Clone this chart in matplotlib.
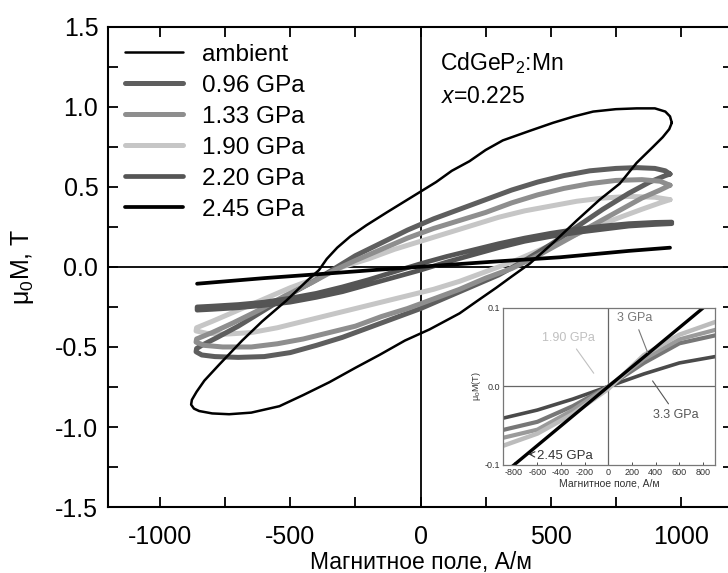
import matplotlib
matplotlib.use('Agg')
import matplotlib.pyplot as plt
from matplotlib.ticker import MultipleLocator, FuncFormatter

plt.rcParams['font.family'] = ['Liberation Sans', 'DejaVu Sans']
plt.rcParams['mathtext.fontset'] = 'custom'
plt.rcParams['mathtext.rm'] = 'Liberation Sans'
plt.rcParams['mathtext.it'] = 'Liberation Sans:italic'

# ---------------- data (field in A/m, magnetisation mu0*M in T) ----------------
labels = ['ambient', '0.96 GPa', '1.33 GPa', '1.90 GPa', '2.20 GPa', '2.45 GPa']

amb_H = [965, 958, 940, 900, 830, 750, 663, 590, 509, 420, 316, 250, 188, 120, 60, 0,
         -60, -130, -208, -270, -320, -360, -390, -438, -515, -608, -685, -773, -830,
         -860, -878, -881, -870, -850, -800, -735, -650, -542, -450, -350, -250, -158,
         -60, 35, 150, 220, 291, 350, 419, 509, 600, 688, 765, 830, 893, 930, 955, 965]
amb_M = [0.90, 0.94, 0.97, 0.99, 0.99, 0.985, 0.97, 0.94, 0.90, 0.85, 0.79, 0.73, 0.66,
         0.60, 0.53, 0.47, 0.41, 0.34, 0.26, 0.19, 0.12, 0.05, -0.02, -0.09, -0.21,
         -0.34, -0.46, -0.61, -0.71, -0.78, -0.83, -0.86, -0.885, -0.90, -0.915, -0.92,
         -0.91, -0.87, -0.80, -0.72, -0.63, -0.55, -0.46, -0.39, -0.29, -0.21, -0.13,
         -0.06, 0.02, 0.15, 0.29, 0.42, 0.52, 0.65, 0.75, 0.81, 0.86, 0.90]

p096_H = [958, 940, 900, 830, 750, 650, 550, 450, 350, 250, 150, 50, -50, -150, -250,
          -320, -400, -500, -600, -700, -780, -840, -860,
          -862, -840, -790, -700, -600, -500, -400, -300, -200, -100, 0, 100, 200, 300,
          400, 500, 600, 700, 800, 880, 940, 958]
p096_M = [0.58, 0.60, 0.615, 0.62, 0.615, 0.60, 0.57, 0.53, 0.48, 0.42, 0.36, 0.30,
          0.23, 0.15, 0.07, 0.0, -0.08, -0.17, -0.27, -0.37, -0.44, -0.49, -0.51,
          -0.53, -0.55, -0.56, -0.565, -0.56, -0.535, -0.49, -0.44, -0.38, -0.32, -0.26,
          -0.19, -0.12, -0.05, 0.04, 0.14, 0.25, 0.36, 0.46, 0.53, 0.57, 0.58]

p133_H = [958, 920, 850, 750, 650, 550, 450, 350, 250, 150, 50, -50, -150, -250, -330,
          -420, -520, -620, -720, -800, -860,
          -862, -830, -760, -650, -550, -450, -350, -250, -150, -50, 50, 150, 250, 350,
          450, 550, 650, 750, 850, 920, 958]
p133_M = [0.51, 0.535, 0.545, 0.54, 0.52, 0.49, 0.45, 0.40, 0.34, 0.29, 0.24, 0.18,
          0.11, 0.04, -0.02, -0.10, -0.18, -0.27, -0.35, -0.41, -0.45,
          -0.47, -0.49, -0.50, -0.50, -0.48, -0.45, -0.41, -0.37, -0.31, -0.26, -0.20,
          -0.14, -0.07, -0.01, 0.07, 0.16, 0.25, 0.34, 0.43, 0.48, 0.51]

p190_H = [958, 900, 800, 700, 600, 500, 400, 300, 200, 100, 0, -100, -200, -300, -400,
          -500, -600, -700, -800, -860,
          -862, -820, -750, -650, -550, -450, -350, -250, -150, -50, 50, 150, 250, 350,
          450, 550, 650, 750, 850, 920, 958]
p190_M = [0.42, 0.435, 0.44, 0.43, 0.41, 0.38, 0.35, 0.31, 0.26, 0.21, 0.16, 0.11,
          0.05, 0.0, -0.07, -0.13, -0.20, -0.27, -0.34, -0.38,
          -0.40, -0.415, -0.42, -0.41, -0.38, -0.34, -0.30, -0.26, -0.22, -0.18, -0.14,
          -0.09, -0.03, 0.03, 0.10, 0.17, 0.24, 0.30, 0.36, 0.40, 0.42]

p220_H = [965, 900, 800, 700, 600, 500, 400, 300, 200, 100, 0, -100, -200, -300, -400,
          -500, -600, -700, -800, -858,
          -858, -800, -700, -600, -500, -400, -300, -200, -100, 0, 100, 200, 300, 400,
          500, 600, 700, 800, 900, 965]
p220_M = [0.28, 0.278, 0.27, 0.255, 0.235, 0.21, 0.18, 0.145, 0.105, 0.065, 0.02,
          -0.03, -0.08, -0.125, -0.165, -0.195, -0.22, -0.235, -0.245, -0.25,
          -0.27, -0.265, -0.255, -0.24, -0.22, -0.19, -0.155, -0.11, -0.065, -0.02,
          0.03, 0.075, 0.12, 0.16, 0.19, 0.215, 0.235, 0.255, 0.265, 0.27]

p245_H = [-858, -600, -388, -200, 35, 300, 535, 800, 958]
p245_M = [-0.105, -0.07, -0.045, -0.022, 0.005, 0.035, 0.06, 0.10, 0.12]

# inset data
ins_black_H = [-830, 0, 840]
ins_black_M = [-0.104, 0.0, 0.105]
ins_a_H = [-880, -600, -300, 0, 300, 600, 900]
ins_a_M = [-0.040, -0.030, -0.016, 0.0, 0.016, 0.030, 0.038]
ins_b_H = [-880, -600, -300, 0, 300, 600, 900]
ins_b_M = [-0.055, -0.045, -0.025, 0.0, 0.030, 0.055, 0.065]
ins_c_H = [-880, -600, -300, 0, 300, 600, 900]
ins_c_M = [-0.065, -0.055, -0.030, 0.0, 0.035, 0.060, 0.072]
ins_d_H = [-880, -600, -300, 0, 300, 600, 900]
ins_d_M = [-0.075, -0.060, -0.035, -0.003, 0.040, 0.066, 0.082]

# ---------------- figure ----------------
fig = plt.figure(figsize=(7.28, 5.73), dpi=100)
ax = fig.add_axes([0.1484, 0.1150, 0.8585, 0.8384])

ax.axhline(0, color='black', lw=1.3, zorder=1)
ax.axvline(0, color='black', lw=1.3, zorder=1)

kw = dict(solid_capstyle='round', solid_joinstyle='round')
l1, = ax.plot(p096_H, p096_M, color='#5e5e5e', lw=3.6, zorder=3, **kw)
l2, = ax.plot(p133_H, p133_M, color='#8e8e8e', lw=3.6, zorder=3, **kw)
l3, = ax.plot(p190_H, p190_M, color='#c6c6c6', lw=3.6, zorder=2, **kw)
l4, = ax.plot(p220_H, p220_M, color='#555555', lw=3.4, zorder=3, **kw)
l5, = ax.plot(p245_H, p245_M, color='black', lw=2.7, zorder=4, **kw)
l0, = ax.plot(amb_H, amb_M, color='black', lw=1.8, zorder=5, **kw)

ax.set_xlim(-1200, 1200)
ax.set_ylim(-1.5, 1.5)
ax.xaxis.set_major_locator(MultipleLocator(500))
ax.xaxis.set_minor_locator(MultipleLocator(250))
ax.yaxis.set_major_locator(MultipleLocator(0.5))
ax.yaxis.set_minor_locator(MultipleLocator(0.25))
ax.tick_params(which='both', direction='in', top=True, right=True, width=1.3,
               labelsize=18, length=7)
ax.tick_params(axis='x', pad=13)
ax.tick_params(axis='y', pad=7)
ax.xaxis.set_major_formatter(FuncFormatter(lambda v, p: '%d' % v if v >= 0 else '-%d' % -v))
ax.yaxis.set_major_formatter(FuncFormatter(lambda v, p: '%.1f' % v if v >= 0 else '-%.1f' % -v))
for s in ax.spines.values():
    s.set_linewidth(1.5)

ax.set_xlabel('Магнитное поле, А/м', fontsize=16.5, labelpad=1)
ax.set_ylabel('μ$_0$M, T', fontsize=18, labelpad=14)

leg = ax.legend([l0, l1, l2, l3, l4, l5], labels, loc='upper left',
                bbox_to_anchor=(0.0, 1.0), frameon=False, fontsize=17.5,
                handlelength=2.4, handletextpad=0.75, labelspacing=0.37,
                borderaxespad=0.3)

ax.text(0.531, 0.925, 'CdGeP$_2$:Mn', transform=ax.transAxes, fontsize=16.5, va='center')
ax.text(0.533, 0.855, '$x$=0.225', transform=ax.transAxes, fontsize=16.5, va='center')

# ---------------- inset ----------------
ins = fig.add_axes([0.691, 0.1885, 0.291, 0.274])
ins.axhline(0, color='#666666', lw=0.9)
ins.axvline(0, color='#666666', lw=0.9)
ins.plot(ins_a_H, ins_a_M, color='#4a4a4a', lw=2.6)
ins.plot(ins_b_H, ins_b_M, color='#777777', lw=3.0)
ins.plot(ins_c_H, ins_c_M, color='#9a9a9a', lw=3.0)
ins.plot(ins_d_H, ins_d_M, color='#bcbcbc', lw=3.2)
ins.plot(ins_black_H, ins_black_M, color='black', lw=2.4)
ins.set_xlim(-890, 900)
ins.set_ylim(-0.1, 0.1)
ins.set_xticks([-800, -600, -400, -200, 0, 200, 400, 600, 800])
ins.xaxis.set_major_formatter(FuncFormatter(lambda v, p: '%d' % v if v >= 0 else '-%d' % -v))
ins.set_yticks([-0.1, 0.0, 0.1])
ins.set_yticklabels(['-0.1', '0.0', '0.1'])
ins.tick_params(direction='in', length=2, width=0.6, labelsize=6.5, pad=2,
                colors='#333333')
for s in ins.spines.values():
    s.set_color('#777777')
    s.set_linewidth(0.9)
ins.set_xlabel('Магнитное поле, А/м', fontsize=7.5, labelpad=1, color='#333333')
ins.set_ylabel('μ$_0$M(T)', fontsize=6.5, labelpad=1, color='#333333')

ins.annotate('3 GPa', xy=(340, 0.04), xytext=(70, 0.083), fontsize=9,
             color='#777777', arrowprops=dict(arrowstyle='-', color='#777777', lw=0.8))
ins.annotate('1.90 GPa', xy=(-110, 0.014), xytext=(-560, 0.058), fontsize=9,
             color='#c0c0c0', arrowprops=dict(arrowstyle='-', color='#c0c0c0', lw=0.8))
ins.annotate('3.3 GPa', xy=(360, 0.010), xytext=(380, -0.040), fontsize=9,
             color='#555555', arrowprops=dict(arrowstyle='-', color='#555555', lw=0.8))
ins.annotate('2.45 GPa', xy=(-700, -0.086), xytext=(-600, -0.088), fontsize=9.5,
             color='#333333', va='center',
             arrowprops=dict(arrowstyle='->', color='#333333', lw=0.8))

fig.savefig('out.png', dpi=100, facecolor='white')
